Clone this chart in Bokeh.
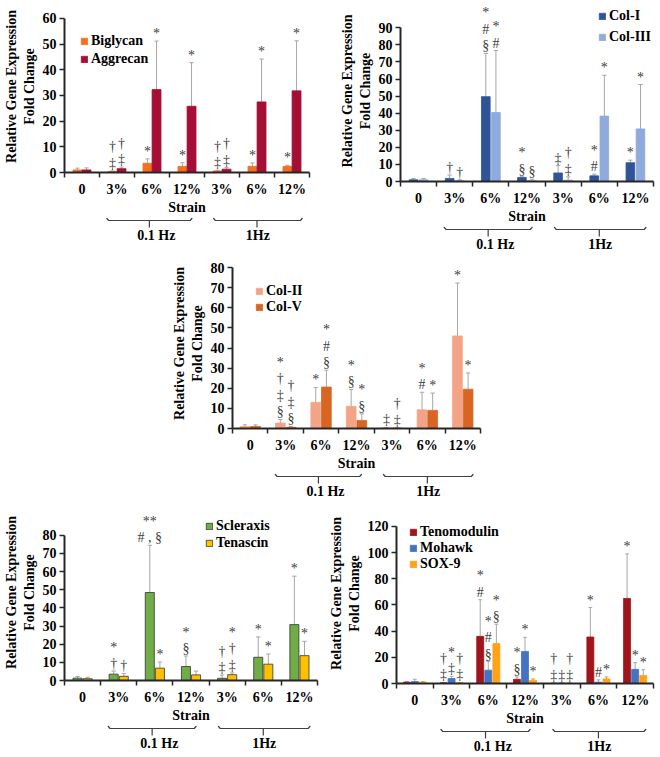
from bokeh.plotting import figure
from bokeh.models import Range1d, FixedTicker, ColumnDataSource, Legend, LegendItem, Spacer
from bokeh.layouts import column, row
from bokeh.embed import file_html
from bokeh.resources import INLINE
from bokeh.core.properties import value

# ---------------- data ----------------
categories = ["0", "3%", "6%", "12%", "3%", "6%", "12%"]
freq_groups = ["0.1 Hz", "1Hz"]
y_label = "Relative Gene Expression\nFold Change"
x_label = "Strain"

# Panel A
biglycan = [1.0, 0.4, 3.6, 2.4, 0.6, 2.4, 2.4]
biglycan_err = [1.7, 0.6, 5.3, 3.8, 0.9, 3.7, 2.8]
biglycan_sig = ["", "†\n‡", "*", "*", "†\n‡", "*", "*"]
aggrecan = [1.0, 1.5, 32.3, 25.8, 1.3, 27.5, 31.8]
aggrecan_err = [1.8, 2.1, 51.2, 42.8, 1.9, 44.2, 51.3]
aggrecan_sig = ["", "†\n‡", "*", "*", "†\n‡", "*", "*"]

# Panel B
col1 = [1.0, 1.8, 49.7, 2.3, 5.0, 3.3, 11.0]
col1_err = [1.8, 3.8, 75.0, 2.8, 9.3, 4.3, 12.5]
col1_sig = ["", "†", "*\n#\n§", "*\n§", "‡", "*\n#", "*"]
col3 = [1.0, 0.5, 40.4, 0.5, 0.8, 38.3, 30.8]
col3_err = [1.8, 1.0, 76.7, 1.4, 2.7, 62.2, 56.8]
col3_sig = ["", "†", "*\n#", "§", "†\n‡", "*", "*"]

# Panel C
col2 = [1.0, 2.7, 13.0, 11.0, 0.3, 9.3, 46.0]
col2_err = [1.8, 4.5, 20.4, 19.4, 0.5, 18.0, 72.3]
col2_sig = ["", "*\n†\n‡\n§", "*", "*\n§", "‡", "*\n#", "*"]
col5 = [1.0, 0.6, 20.6, 4.0, 0.2, 9.0, 19.5]
col5_err = [1.8, 1.0, 29.0, 7.3, 0.4, 17.6, 27.6]
col5_sig = ["", "†\n‡\n§", "*\n#\n§", "*\n§", "†\n‡", "*", "*"]

# Panel D
scleraxis = [1.3, 3.5, 48.5, 7.7, 1.2, 12.8, 30.8]
scleraxis_err = [2.2, 5.2, 74.5, 13.5, 3.0, 24.0, 57.5]
scleraxis_sig = ["", "*\n†", "**\n# , §", "*\n§", "†\n‡", "*", "*"]
tenascin = [1.0, 2.3, 6.8, 3.1, 3.2, 9.0, 13.7]
tenascin_err = [1.8, 3.9, 10.2, 5.2, 4.2, 14.6, 21.6]
tenascin_sig = ["", "†", "*", "", "*\n†\n‡", "*", "*"]

# Panel E
tenomodulin = [1.0, 0.5, 36.0, 3.2, 0.2, 35.5, 65.0]
tenomodulin_err = [1.5, 0.8, 64.0, 5.0, 0.4, 58.0, 99.0]
tenomodulin_sig = ["", "†\n‡", "*\n#", "*\n§", "†\n‡", "*", "*"]
mohawk = [1.5, 3.8, 10.2, 24.5, 0.3, 1.0, 10.8]
mohawk_err = [3.2, 5.5, 16.8, 35.3, 0.5, 2.8, 16.0]
mohawk_sig = ["", "*\n‡", "*\n#\n§", "*", "‡", "#", "*"]
sox9 = [1.0, 0.5, 30.5, 2.5, 0.3, 3.5, 6.2]
sox9_err = [1.5, 0.8, 45.3, 3.5, 0.5, 5.0, 10.5]
sox9_sig = ["", "†\n‡", "*\n§", "*", "†\n‡", "*", "*"]

# ---------------- style ----------------
FONT = "Liberation Serif"
AXIS_COLOR = "#262626"
SIG_COLOR = "#404040"
ERR_COLOR = "#a6a6a6"
BR_H = 26


def build(series, ytop, ymax_tick, ystep, frame_w, frame_h, left, right, top,
          bar_w, cap_w, leg_x, leg_top, leg_lh, outline=None):
    n = len(categories)
    centers = [2 * i + 1 for i in range(n)]
    xr = Range1d(0, 2 * n)
    p = figure(x_range=xr, y_range=Range1d(0, ytop), frame_width=frame_w, frame_height=frame_h,
               min_border_left=left, min_border_right=right, min_border_top=top,
               min_border_bottom=0, output_backend="svg", toolbar_location=None)
    p.outline_line_color = None
    p.xgrid.visible = False
    p.ygrid.visible = False

    xa = p.xaxis[0]
    xa.ticker = FixedTicker(ticks=centers, minor_ticks=list(range(0, 2 * n + 1, 2)))
    xa.major_label_overrides = dict(zip(centers, categories))
    xa.major_tick_out = 0
    xa.major_tick_in = 0
    xa.minor_tick_out = 5
    xa.minor_tick_in = 0
    xa.minor_tick_line_color = AXIS_COLOR
    xa.minor_tick_line_width = 1.5
    xa.axis_line_color = AXIS_COLOR
    xa.axis_line_width = 2
    xa.major_label_text_font = FONT
    xa.major_label_text_font_style = "bold"
    xa.major_label_text_font_size = "14px"
    xa.major_label_text_color = "black"
    xa.major_label_standoff = 4
    xa.axis_label = x_label
    xa.axis_label_text_font = FONT
    xa.axis_label_text_font_style = "bold"
    xa.axis_label_text_font_size = "14px"
    xa.axis_label_text_color = "black"
    xa.axis_label_standoff = 0

    ya = p.yaxis[0]
    ya.ticker = FixedTicker(ticks=list(range(0, ymax_tick + 1, ystep)))
    ya.bounds = (0, ymax_tick)
    ya.minor_tick_line_color = None
    ya.major_tick_out = 5
    ya.major_tick_in = 0
    ya.major_tick_line_color = AXIS_COLOR
    ya.major_tick_line_width = 1.5
    ya.axis_line_color = AXIS_COLOR
    ya.axis_line_width = 2
    ya.major_label_text_font = FONT
    ya.major_label_text_font_style = "bold"
    ya.major_label_text_font_size = "14px"
    ya.major_label_text_color = "black"
    ya.major_label_standoff = 3
    ya.axis_label = y_label
    ya.axis_label_text_font = FONT
    ya.axis_label_text_font_style = "bold"
    ya.axis_label_text_font_size = "14px"
    ya.axis_label_text_color = "black"
    ya.axis_label_standoff = 3

    items = []
    for s in series:
        xs = [c + s["off"] for c in centers]
        src = ColumnDataSource(dict(
            x=xs, top=s["vals"], err=s["err"], sig=s["sig"],
            cl=[x - cap_w / 2 for x in xs], cr=[x + cap_w / 2 for x in xs]))
        p.segment(x0="x", y0="top", x1="x", y1="err", source=src,
                  line_color=ERR_COLOR, line_width=1)
        p.segment(x0="cl", y0="err", x1="cr", y1="err", source=src,
                  line_color=ERR_COLOR, line_width=1)
        r = p.vbar(x="x", top="top", width=bar_w, source=src, fill_color=s["color"],
                   line_color=outline if outline else s["color"], line_width=0.8)
        p.text(x="x", y="err", text="sig", source=src, text_align="center",
               text_baseline="bottom", y_offset=0, text_font=value(FONT),
               text_font_size="14px", text_color=SIG_COLOR, text_line_height=1.1)
        items.append(LegendItem(label=s["name"], renderers=[r]))

    leg_h = 4 + leg_lh * len(series)
    leg = Legend(items=items, location=(leg_x, frame_h - leg_top - leg_h),
                 label_text_font=FONT, label_text_font_style="bold",
                 label_text_font_size="14px", label_text_color="black",
                 label_height=leg_lh, glyph_width=8, glyph_height=8,
                 label_standoff=3, spacing=0, padding=2, margin=0,
                 background_fill_alpha=0, border_line_alpha=0)
    p.add_layout(leg)

    b = figure(x_range=xr, y_range=Range1d(BR_H, 0), frame_width=frame_w, frame_height=BR_H,
               min_border_left=left, min_border_right=right, min_border_top=0,
               min_border_bottom=0, x_axis_type=None, y_axis_type=None,
               output_backend="svg", toolbar_location=None)
    b.outline_line_color = None
    b.xgrid.visible = False
    b.ygrid.visible = False
    spans = [(2.4, 7.3, 4.85, 5.25), (8.5, 13.6, 11.0, 11.05)]
    xs_l, ys_l = [], []
    for s0, s1, mid, _ in spans:
        xs_l += [[s0, s0 + 0.12, s1 - 0.12, s1], [mid, mid]]
        ys_l += [[0.5, 3, 3, 0.5], [3, 10]]
    b.multi_line(xs=xs_l, ys=ys_l, line_color="#404040", line_width=1.2)
    b.text(x=[sp[3] for sp in spans], y=[18, 18], text=freq_groups, text_align="center",
           text_baseline="middle", text_font=value(FONT), text_font_style="bold",
           text_font_size="14px", text_color="black")
    return column(p, b, spacing=0)


pA = build([
    dict(name="Biglycan", vals=biglycan, err=biglycan_err, sig=biglycan_sig, color="#F37021", off=-0.26),
    dict(name="Aggrecan", vals=aggrecan, err=aggrecan_err, sig=aggrecan_sig, color="#A50F35", off=0.26),
], ytop=67, ymax_tick=60, ystep=10, frame_w=245, frame_h=172, left=64, right=8, top=0,
    bar_w=0.51, cap_w=0.24, leg_x=14, leg_top=30, leg_lh=18)

pB = build([
    dict(name="Col-I", vals=col1, err=col1_err, sig=col1_sig, color="#2F5597", off=-0.28),
    dict(name="Col-III", vals=col3, err=col3_err, sig=col3_sig, color="#8FAADC", off=0.28),
], ytop=106, ymax_tick=90, ystep=10, frame_w=253, frame_h=181, left=83, right=5, top=0,
    bar_w=0.48, cap_w=0.24, leg_x=196, leg_top=3, leg_lh=21)

pC = build([
    dict(name="Col-II", vals=col2, err=col2_err, sig=col2_sig, color="#F4A486", off=-0.3),
    dict(name="Col-V", vals=col5, err=col5_err, sig=col5_sig, color="#D86622", off=0.3),
], ytop=84.5, ymax_tick=80, ystep=10, frame_w=248, frame_h=170, left=66, right=10, top=6,
    bar_w=0.55, cap_w=0.24, leg_x=21, leg_top=23, leg_lh=16)

pD = build([
    dict(name="Scleraxis", vals=scleraxis, err=scleraxis_err, sig=scleraxis_sig, color="#70AD47", off=-0.28),
    dict(name="Tenascin", vals=tenascin, err=tenascin_err, sig=tenascin_sig, color="#FFC000", off=0.28),
], ytop=97, ymax_tick=80, ystep=10, frame_w=253, frame_h=176, left=63, right=4, top=5,
    bar_w=0.5, cap_w=0.24, leg_x=139, leg_top=11, leg_lh=17, outline="#333333")

pE = build([
    dict(name="Tenomodulin", vals=tenomodulin, err=tenomodulin_err, sig=tenomodulin_sig, color="#A0141C", off=-0.44),
    dict(name="Mohawk", vals=mohawk, err=mohawk_err, sig=mohawk_sig, color="#4472C4", off=0.0),
    dict(name="SOX-9", vals=sox9, err=sox9_err, sig=sox9_sig, color="#FFA214", off=0.44),
], ytop=137.5, ymax_tick=120, ystep=20, frame_w=257, frame_h=180, left=75, right=4, top=4,
    bar_w=0.38, cap_w=0.2, leg_x=11, leg_top=19, leg_lh=16)

layout = column(
    row(pA, pB, spacing=0),
    row(Spacer(width=166), pC, spacing=0),
    row(pD, pE, spacing=0),
    spacing=0,
)

open("out.html", "w").write(file_html(layout, INLINE))
